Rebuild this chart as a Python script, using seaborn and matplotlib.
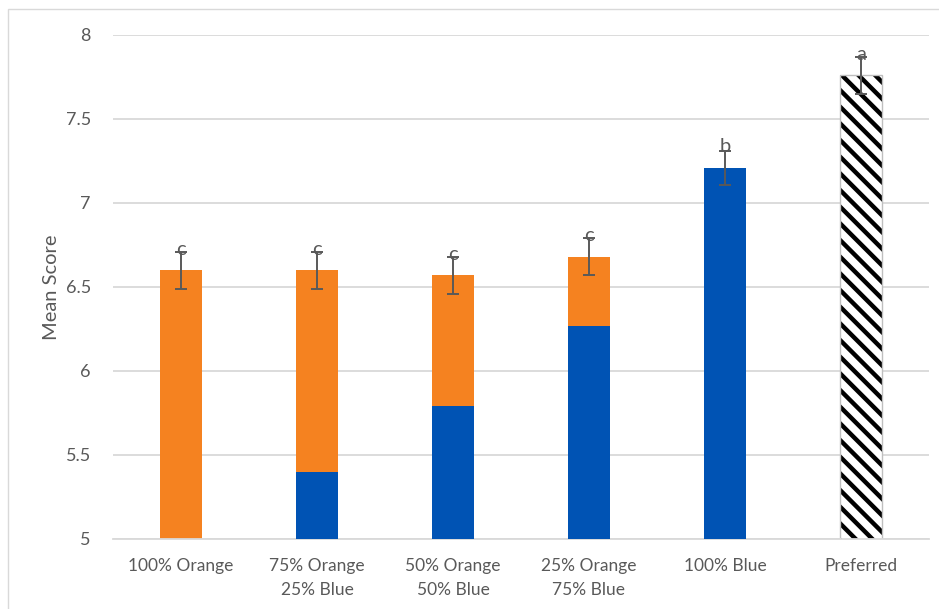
import matplotlib
matplotlib.use("Agg")
import matplotlib.pyplot as plt
from matplotlib.patches import Rectangle
import seaborn as sns
import pandas as pd

# Chart data
categories = ["100% Orange", "75% Orange\n25% Blue", "50% Orange\n50% Blue",
              "25% Orange\n75% Blue", "100% Blue", "Preferred"]
total_scores = [6.60, 6.60, 6.57, 6.68, 7.21, 7.76]
blue_scores = [0.0, 5.40, 5.79, 6.27, 7.21, 0.0]
score_errors = [0.11, 0.11, 0.11, 0.11, 0.10, 0.11]
group_letters = ["c", "c", "c", "c", "b", "a"]
y_ticks = [5, 5.5, 6, 6.5, 7, 7.5, 8]

ORANGE = "#F58220"
BLUE = "#0053B4"
TEXT = "#595959"
GRID = "#D9D9D9"

sns.set_theme(style="white")
plt.rcParams["font.family"] = ["Lato", "DejaVu Sans"]
plt.rcParams["hatch.linewidth"] = 3.2

df = pd.DataFrame({"category": categories, "total": total_scores, "blue": blue_scores})
top_colors = [ORANGE, ORANGE, ORANGE, ORANGE, BLUE, "white"]

fig = plt.figure(figsize=(9.39, 6.09), dpi=100)
ax = fig.add_axes([113 / 939, 1 - 539 / 609, 816 / 939, 504 / 609])

# Upper (orange) segment drawn at full height, blue segment laid over it
sns.barplot(data=df, x="category", y="total", hue="category", palette=top_colors,
            legend=False, width=0.31, saturation=1, linewidth=0, ax=ax, zorder=2)
pref = ax.patches[-1]
pref.set_hatch("\\\\")
pref.set_edgecolor("black")
pref.set_linewidth(0)
ax.add_patch(Rectangle(pref.get_xy(), pref.get_width(), pref.get_height(),
                       fill=False, edgecolor="#BFBFBF", linewidth=1.0, zorder=2.5))
sns.barplot(data=df, x="category", y="blue", color=BLUE, width=0.31,
            saturation=1, linewidth=0, ax=ax, zorder=3)

ax.errorbar(range(len(categories)), total_scores, yerr=score_errors, fmt="none",
            ecolor=TEXT, elinewidth=1.4, capsize=4, capthick=1.4, zorder=4)

for i, (val, letter) in enumerate(zip(total_scores, group_letters)):
    ax.annotate(letter, (i, val), xytext=(0, 9), textcoords="offset points",
                ha="center", va="bottom", fontsize=14.5, color=TEXT, zorder=5)

ax.set_ylim(5, 8)
ax.set_xlim(-0.5, 5.5)
ax.set_yticks(y_ticks)
ax.set_yticklabels([f"{t:g}" for t in y_ticks])
ax.set_xticks(range(len(categories)))
ax.set_xticklabels(categories, linespacing=1.55)
ax.yaxis.grid(True, color=GRID, linewidth=1.3, zorder=0)
ax.set_axisbelow(True)
for side in ["top", "right", "left"]:
    ax.spines[side].set_visible(False)
ax.spines["bottom"].set_color(GRID)
ax.spines["bottom"].set_linewidth(1.3)
ax.tick_params(axis="y", length=0, pad=16, labelsize=13, labelcolor=TEXT)
ax.tick_params(axis="x", length=0, pad=14, labelsize=12.5, labelcolor=TEXT)
ax.set_xlabel("")
ax.set_ylabel("Mean Score", fontsize=14.5, color=TEXT, labelpad=4)

# Chart frame
fig.patches.append(Rectangle((8 / 939, -0.05), 1.1, 1 - 9 / 609 + 0.05,
                             transform=fig.transFigure, fill=False,
                             edgecolor="#D9D9D9", linewidth=1.0))

fig.savefig("out.png", dpi=100)
